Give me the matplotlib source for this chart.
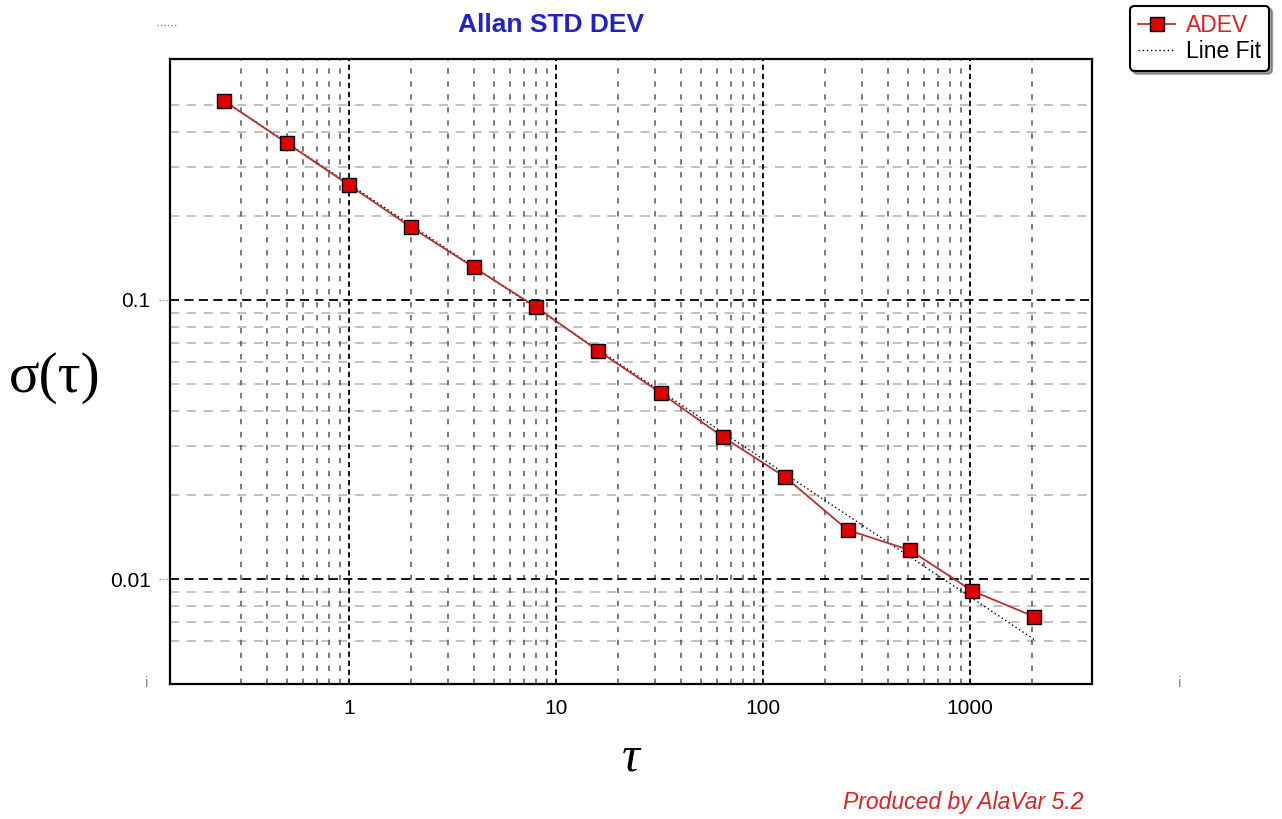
import matplotlib
matplotlib.use('Agg')
import matplotlib.pyplot as plt
from matplotlib.lines import Line2D
from matplotlib.ticker import FixedLocator, NullFormatter
import matplotlib.transforms as mtransforms

# Allan deviation data
tau = [0.25, 0.5, 1, 2, 4, 8, 16, 32, 64, 128, 256, 512, 1024, 2048]
adev = [0.516, 0.365, 0.258, 0.182, 0.131, 0.0944, 0.0657, 0.0465,
        0.0323, 0.0232, 0.0150, 0.0127, 0.00908, 0.00733]

# straight line fit end points
fit_tau = [0.25, 2048]
fit_val = [0.516, 0.00607]

x_major = [1, 10, 100, 1000]
x_labels = ['1', '10', '100', '1000']
x_minor = [0.3, 0.4, 0.5, 0.6, 0.7, 0.8, 0.9,
           2, 3, 4, 5, 6, 7, 8, 9,
           20, 30, 40, 50, 60, 70, 80, 90,
           200, 300, 400, 500, 600, 700, 800, 900, 2000]
y_major = [0.01, 0.1]
y_labels = ['0.01', '0.1']
y_minor = [0.006, 0.007, 0.008, 0.009,
           0.02, 0.03, 0.04, 0.05, 0.06, 0.07, 0.08, 0.09,
           0.2, 0.3, 0.4, 0.5]

SANS = ['Liberation Sans', 'DejaVu Sans']
SERIF = ['Liberation Serif', 'DejaVu Serif']

fig = plt.figure(figsize=(12.82, 8.19), dpi=100)
ax = fig.add_axes([170 / 1282, 1 - 684 / 819, 922 / 1282, 625 / 819])
ax.set_xscale('log')
ax.set_yscale('log')
ax.set_xlim(0.1365, 3884)
ax.set_ylim(0.00421, 0.730)

# grid lines
for v in y_minor:
  ax.axhline(v, color='#b0b0b0', lw=1.1, ls=(0, (6, 5)), zorder=1)
for v in x_minor:
  ax.axvline(v, color='#555555', lw=1.1, ls=(0, (3.5, 5)), zorder=1)
for v in y_major:
  ax.axhline(v, color='black', lw=1.3, ls=(0, (5, 3)), zorder=1.5)
for v in x_major:
  ax.axvline(v, color='black', lw=1.3, ls=(0, (3, 2)), zorder=1.5)

ax.plot(fit_tau, fit_val, color='black', lw=1.0, ls=(0, (1, 2)), zorder=2,
        label='Line Fit')
ax.plot(tau, adev, color='#b83030', lw=1.3, marker='s', markersize=10,
        markerfacecolor='#dd0000', markeredgecolor='black', markeredgewidth=1.0,
        zorder=3, label='ADEV')

ax.xaxis.set_major_locator(FixedLocator(x_major))
ax.set_xticklabels(x_labels, fontsize=15, family=SANS)
ax.xaxis.set_minor_locator(FixedLocator(x_minor))
ax.xaxis.set_minor_formatter(NullFormatter())
ax.yaxis.set_major_locator(FixedLocator(y_major))
ax.set_yticklabels(y_labels, fontsize=15, family=SANS)
ax.yaxis.set_minor_locator(FixedLocator(y_minor))
ax.yaxis.set_minor_formatter(NullFormatter())
ax.tick_params(axis='x', which='both', length=0, pad=11)
ax.tick_params(axis='y', which='both', length=0, pad=14)

# dotted stubs next to the y tick labels
trans = mtransforms.blended_transform_factory(ax.transAxes, ax.transData)
for v in y_major:
  ax.plot([-0.012, 0], [v, v], transform=trans, color='#909090', lw=1,
          ls=(0, (1, 1.5)), clip_on=False)

for spine in ax.spines.values():
  spine.set_linewidth(1.6)
  spine.set_color('black')

ax.set_xlabel('τ', fontsize=36, style='italic', family=SERIF, labelpad=12)
ax.set_ylabel('σ(τ)', fontsize=41, family=SERIF, rotation=0, va='center',
              ha='center')
ax.yaxis.set_label_coords(-0.125, 0.49)

fig.text(551 / 1282, 1 - 25 / 819, 'Allan STD DEV', color='#2222cc', fontsize=19,
         fontweight='bold', family=SANS, ha='center', va='center')
fig.text(1083 / 1282, 1 - 803 / 819, 'Produced by AlaVar 5.2', color='#dd2222',
         fontsize=16.5, style='italic', family=SANS, ha='right', va='center')
fig.text(147 / 1282, 1 - 683 / 819, 'i', color='#888888', fontsize=11,
         family=SANS, ha='center', va='center')
fig.text(1180 / 1282, 1 - 683 / 819, 'i', color='#888888', fontsize=11,
         family=SANS, ha='center', va='center')
fig.add_artist(Line2D([157 / 1282, 176 / 1282], [1 - 25 / 819, 1 - 25 / 819],
                      transform=fig.transFigure, color='#888888', lw=1,
                      ls=(0, (1, 1.5))))

handles, labels = ax.get_legend_handles_labels()
leg = fig.legend(handles[::-1], labels[::-1], loc='upper right',
                 bbox_to_anchor=(1274 / 1282, 1 - 1 / 819),
                 fancybox=True, shadow=True, framealpha=1, handlelength=1.6,
                 handletextpad=0.5, borderpad=0.35, labelspacing=0.15,
                 borderaxespad=0.2, prop={'family': SANS, 'size': 16.5})
leg.get_frame().set_edgecolor('black')
leg.get_frame().set_linewidth(1.5)
leg.get_texts()[0].set_color('#dd2222')

fig.savefig('out.png', dpi=100)
